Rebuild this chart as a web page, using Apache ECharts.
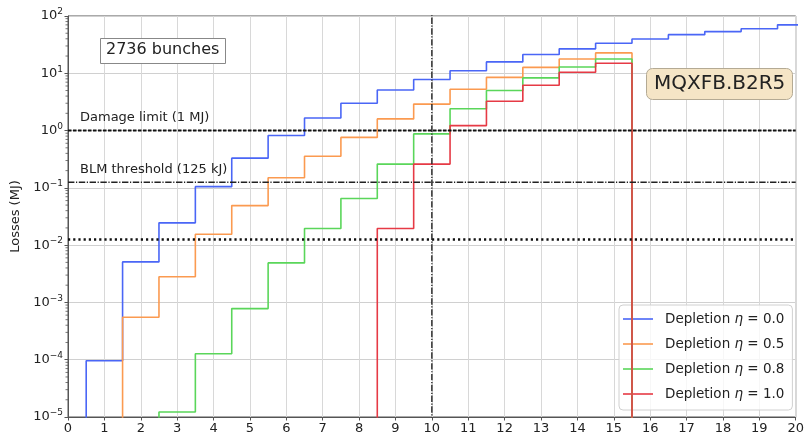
<!DOCTYPE html>
<html>
<head>
<meta charset="utf-8">
<script src="https://cdn.jsdelivr.net/npm/echarts@6/dist/echarts.min.js"></script>
<style>
  html, body { margin: 0; padding: 0; background: #fff; }
  #chart { width: 807px; height: 440px; }
</style>
</head>
<body>
<div id="chart"></div>
<script>
// Losses per bin (MJ), one value per integer bin centre.
const blueCenters   = [1, 2, 3, 4, 5, 6, 7, 8, 9, 10, 11, 12, 13, 14, 15, 16, 17, 18, 19, 20];
const blueValues    = [9.6e-5, 5.1e-3, 0.0245, 0.105, 0.33, 0.82, 1.66, 3.0, 5.1, 7.8, 11.1, 15.8, 21.3, 26.7, 33.5, 39.7, 47.3, 53.4, 60, 70];
const orangeCenters = [2, 3, 4, 5, 6, 7, 8, 9, 10, 11, 12, 13, 14, 15];
const orangeValues  = [5.5e-4, 2.8e-3, 0.0155, 0.049, 0.15, 0.356, 0.76, 1.6, 2.9, 5.26, 8.5, 12.7, 17.8, 22.7];
const greenCenters  = [3, 4, 5, 6, 7, 8, 9, 10, 11, 12, 13, 14, 15];
const greenValues   = [1.22e-5, 1.27e-4, 7.8e-4, 4.9e-3, 0.0195, 0.065, 0.26, 0.875, 2.4, 5.0, 8.3, 12.9, 17.8];
const redCenters    = [9, 10, 11, 12, 13, 14, 15];
const redValues     = [0.0195, 0.26, 1.22, 3.25, 6.2, 10.4, 15.0];

const seriesNames = ['Depletion η = 0.0', 'Depletion η = 0.5', 'Depletion η = 0.8', 'Depletion η = 1.0'];
const seriesColors = ['#4a66f6', '#fb9a50', '#5ad65a', '#e63a45'];

// Reference levels (MJ) and the marked bunch-train position
const damageLimit = 1;
const blmThreshold = 0.125;
const lowerLevel = 0.0125;
const markedX = 10;
const levelCaptions = [
  [damageLimit, 'Damage limit (1 MJ)'],
  [blmThreshold, 'BLM threshold (125 kJ)']
];

const xRange = [0, 20];
const yExtent = [1e-5, 100];
const FLOOR = 1e-7;   // below the axis, clipped away
const CEIL = 1e3;     // above the axis, clipped away

// Turn per-bin values into the corners of a histogram outline
function stepOutline(centers, values, xMax) {
  const pts = [[centers[0] - 0.5, FLOOR]];
  centers.forEach((c, i) => {
    pts.push([c - 0.5, values[i]]);
    pts.push([c + 0.5, values[i]]);
  });
  const last = centers[centers.length - 1] + 0.5;
  if (last < xMax) pts.push([last, FLOOR]);
  return pts;
}

// Minor log ticks: 2..9 in each decade
const minorTicks = [];
for (let e = -5; e < 2; e++) {
  for (let m = 2; m <= 9; m++) minorTicks.push([0, m * Math.pow(10, e)]);
}

function sup(v) {
  const e = Math.round(Math.log10(v));
  return '{b|10}{s|' + (e < 0 ? '\u2212' + (-e) : String(e)) + '}';
}

const FONT = 'DejaVu Sans';
const chart = echarts.init(document.getElementById('chart'), null, { renderer: 'canvas' });

const stepSeries = [
  [blueCenters, blueValues],
  [orangeCenters, orangeValues],
  [greenCenters, greenValues],
  [redCenters, redValues]
].map(([c, v], i) => ({
  name: seriesNames[i],
  type: 'line',
  data: stepOutline(c, v, xRange[1]),
  symbol: 'none',
  clip: true,
  lineStyle: { color: seriesColors[i], width: 1.6 },
  itemStyle: { color: seriesColors[i] },
  z: 3 + i
}));

const dashDot = [6.4, 1.6, 1.2, 1.6];

function levelLine(v, lineStyle) {
  return {
    type: 'line', silent: true, symbol: 'none', clip: true, z: 10,
    data: [[xRange[0], v], [xRange[1], v]],
    lineStyle: lineStyle
  };
}

chart.setOption({
  animation: false,
  textStyle: { fontFamily: FONT },
  title: [
    {
      text: '2736 bunches',
      left: 100, top: 38,
      padding: [4, 6, 6, 6],
      borderColor: '#888', borderWidth: 1,
      backgroundColor: '#fff',
      textStyle: { fontFamily: FONT, fontSize: 16, fontWeight: 'normal', color: '#222' }
    },
    {
      text: 'MQXFB.B2R5',
      left: 646, top: 68,
      padding: [6, 7, 6, 8],
      borderColor: '#b4aa94', borderWidth: 1, borderRadius: 6,
      backgroundColor: '#f5e5c6',
      textStyle: { fontFamily: FONT, fontSize: 20, fontWeight: 'normal', color: '#222' }
    }
  ],
  grid: { left: 68, right: 9, top: 16, bottom: 23, show: true, borderColor: '#555', borderWidth: 1 },
  legend: {
    data: seriesNames,
    orient: 'vertical',
    left: 619, top: 305,
    padding: [7, 8, 9, 4],
    itemGap: 11,
    icon: 'rect',
    itemWidth: 30, itemHeight: 1.6,
    backgroundColor: 'rgba(255,255,255,0.8)',
    borderColor: '#d0d0d0', borderWidth: 1, borderRadius: 4,
    formatter: n => n.replace('η', '{i|η}'),
    textStyle: {
      fontFamily: FONT, fontSize: 13.5, color: '#222', padding: [0, 0, 0, 7], lineHeight: 14,
      rich: { i: { fontFamily: FONT, fontSize: 13.5, fontStyle: 'italic', color: '#222', lineHeight: 14 } }
    }
  },
  xAxis: {
    type: 'value', min: xRange[0], max: xRange[1], interval: 1,
    axisLine: { show: true, lineStyle: { color: '#555', width: 1 } },
    axisTick: { show: true, length: 3.5, lineStyle: { color: '#555' } },
    axisLabel: { fontFamily: FONT, fontSize: 13, color: '#222', margin: 5 },
    splitLine: { show: true, lineStyle: { color: '#d8d8d8', width: 1 } }
  },
  yAxis: {
    type: 'log', logBase: 10, min: yExtent[0], max: yExtent[1], interval: 1,
    name: 'Losses (MJ)', nameLocation: 'middle', nameGap: 44,
    nameTextStyle: { fontFamily: FONT, fontSize: 13, color: '#222' },
    axisLine: { show: true, lineStyle: { color: '#555', width: 1 } },
    axisTick: { show: true, length: 3.5, lineStyle: { color: '#555' } },
    axisLabel: {
      formatter: sup, margin: 5,
      rich: {
        b: { fontFamily: FONT, fontSize: 13, color: '#222' },
        s: { fontFamily: FONT, fontSize: 9, color: '#222', verticalAlign: 'bottom', padding: [0, 0, 8, 0] }
      }
    },
    splitLine: { show: true, lineStyle: { color: '#d0d0d0', width: 1 } }
  },
  series: stepSeries.concat([
    {
      type: 'custom',
      silent: true,
      clip: false,
      data: minorTicks,
      renderItem: (params, api) => {
        const p = api.coord([api.value(0), api.value(1)]);
        return {
          type: 'line',
          shape: { x1: p[0] - 2.5, y1: p[1], x2: p[0], y2: p[1] },
          style: { stroke: '#555', lineWidth: 0.8 }
        };
      },
      z: 2
    },
    levelLine(damageLimit, { color: '#111', width: 2, type: [3.5, 1.5] }),
    levelLine(blmThreshold, { color: '#222', width: 1.4, type: dashDot }),
    levelLine(lowerLevel, { color: '#111', width: 2.5, type: [2.2, 3] }),
    {
      type: 'line', silent: true, symbol: 'none', clip: true, z: 10,
      data: [[markedX, FLOOR], [markedX, CEIL]],
      lineStyle: { color: '#222', width: 1.4, type: dashDot }
    }
  ])
});

// Captions sit just above the left end of their level lines
chart.setOption({
  graphic: levelCaptions.map(([v, text]) => {
    const p = chart.convertToPixel({ gridIndex: 0 }, [xRange[0], v]);
    return {
      type: 'text', silent: true, z: 20,
      x: p[0] + 12, y: p[1] - 6,
      style: { text: text, font: '13px "DejaVu Sans"', fill: '#222', verticalAlign: 'bottom', align: 'left' }
    };
  })
});
</script>
</body>
</html>
